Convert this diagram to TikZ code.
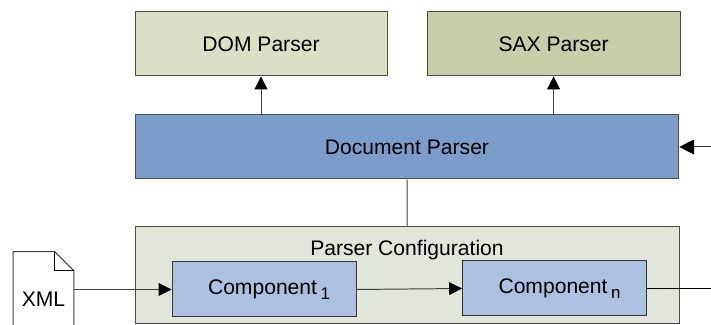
\documentclass[tikz,border=0pt]{standalone}
\usepackage{fontspec}
\setmainfont{Liberation Sans}
\usepackage{xcolor}
\definecolor{DomFill}{HTML}{DADFC6}
\definecolor{SaxFill}{HTML}{C6CDA8}
\definecolor{DocFill}{HTML}{7C9CCC}
\definecolor{ConfigFill}{HTML}{E0E7DA}
\definecolor{CompFill}{HTML}{ACC0E2}
\definecolor{FrameGray}{HTML}{4A4D48}
\usetikzlibrary{arrows.meta, positioning}
\newcommand{\subidx}[1]{\,\raisebox{-0.45ex}{\fontsize{12}{14}\selectfont #1}}

\begin{document}
\begin{tikzpicture}[
  % Parser boxes
  parserbox/.style={
    draw=FrameGray,
    line width=0.7pt,
    minimum width=6.3cm,
    minimum height=1.6cm,
    inner sep=0pt,
    font=\fontsize{15}{18}\selectfont
  },
  % Component inside the configuration
  compbox/.style={
    parserbox,
    draw=black!80,
    fill=CompFill,
    minimum width=4.6cm,
    minimum height=1.375cm
  },
  % Connectors
  link/.style={
    draw=black!75,
    line width=0.7pt
  },
  flow/.style={
    link,
    -{Triangle[length=0.32cm,width=0.32cm,color=black]}
  },
  bigflow/.style={
    link,
    -{Triangle[length=0.37cm,width=0.37cm,color=black]}
  }
]

% =============================================================================
% FRAME
% =============================================================================
\useasboundingbox (0,0) rectangle (17.775,8.125);
\clip (0,0) rectangle (17.775,8.125);
\fill[white] (0,0) rectangle (17.775,8.125);

% =============================================================================
% PARSERS
% =============================================================================
\node[parserbox, fill=DomFill] (dom) at (6.525,7.025) {DOM Parser};
\node[parserbox, fill=SaxFill, minimum width=6.325cm] (sax) at (13.84,7.025) {SAX Parser};
\node[parserbox, fill=DocFill, minimum width=13.59cm] (doc) at (10.175,4.45) {Document Parser};

% =============================================================================
% CONFIGURATION
% =============================================================================
\node[parserbox, fill=ConfigFill, minimum width=13.59cm, minimum height=2.425cm] (config) at (10.18,1.2375) {};
\node[font=\fontsize{15}{18}\selectfont] (configlbl) at (10.175,1.875) {Parser Configuration};

\node[compbox] (comp1) at (6.6,0.8875) {\hspace*{0.25cm}Component\subidx{1}};
\node[compbox] (compn) at (13.8625,0.9125) {\hspace*{0.25cm}Component\subidx{n}};

% =============================================================================
% XML FILE
% =============================================================================
\node[minimum width=1.5cm, minimum height=2.35cm, inner sep=0pt] (xml) at (1.0875,0.65) {};
\draw[link, fill=white] (xml.south west) -- (xml.north west) -- ([xshift=-0.475cm]xml.north east)
  -- ([yshift=-0.475cm]xml.north east) -- (xml.south east);
\draw[draw=black, line width=0.7pt] ([xshift=-0.475cm]xml.north east) |- ([yshift=-0.475cm]xml.north east);
\node[font=\fontsize{15}{18}\selectfont] (xmllbl) at (xml.center) {XML};

% free ends on the right edge
\coordinate (docin) at (17.775,4.45);
\coordinate (compout) at (17.775,0.9125);

% =============================================================================
% CONNECTORS
% =============================================================================
\draw[flow] (doc.north -| dom.south) -- (dom.south);
\draw[flow] (doc.north -| sax.south) -- (sax.south);
\draw[link] (doc.south) -- (config.north);
\draw[bigflow] (docin) -- (doc.east);
\draw[flow] (xml.east |- comp1.west) -- (comp1.west);
\draw[flow] (comp1.east) -- (compn.west);
\draw[link, draw=black] (compn.east) -- (compout);

\end{tikzpicture}
\end{document}
